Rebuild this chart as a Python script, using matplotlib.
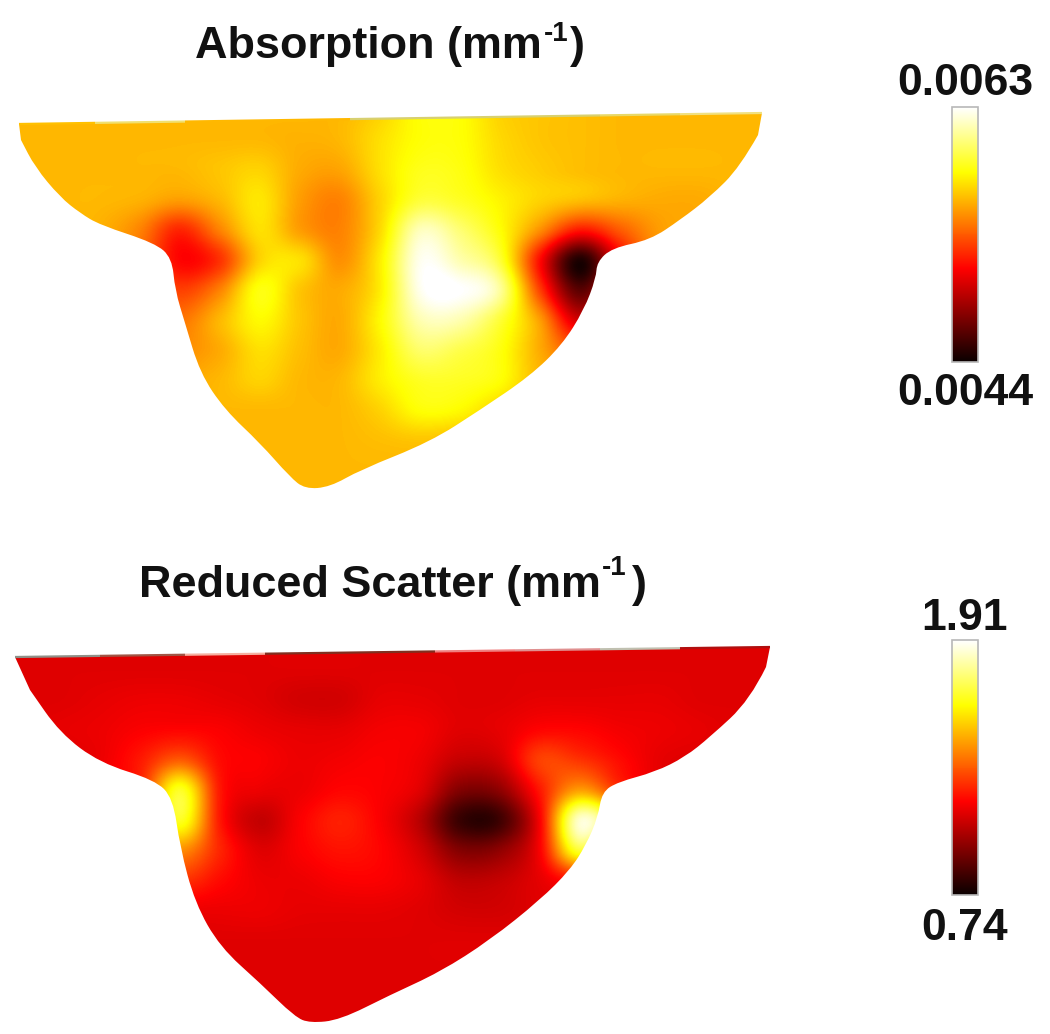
import matplotlib.pyplot as plt
import numpy as np
from matplotlib.path import Path
from matplotlib.patches import PathPatch

plt.rcParams['font.family'] = ['Liberation Sans', 'DejaVu Sans']

ABS_RANGE = (0.0044, 0.0063)
SCAT_RANGE = (0.74, 1.91)
ABS_LABELS = ('0.0063', '0.0044')
SCAT_LABELS = ('1.91', '0.74')

# map values, read as percent of the colour scale
# columns are x = 20, 60, ... 780 px, rows step 30 px
ABS_PCT = [
    [64, 64, 64, 64, 64, 64, 64, 64, 64, 68, 75, 75, 68, 66, 65, 64, 64, 64, 64, 64],
    [64, 64, 64, 64, 64, 64, 64, 63, 64, 70, 75, 75, 69, 66, 65, 64, 64, 64, 64, 64],
    [64, 64, 64, 64, 64, 66, 68, 62, 61, 70, 77, 76, 70, 67, 65, 64, 64, 64, 64, 64],
    [64, 64, 64, 63, 60, 64, 71, 60, 56, 68, 80, 78, 73, 68, 65, 63, 62, 62, 64, 64],
    [64, 64, 63, 56, 42, 56, 70, 60, 56, 69, 93, 86, 75, 58, 40, 50, 60, 62, 64, 64],
    [64, 64, 64, 54, 37, 44, 68, 70, 58, 72, 98, 92, 80, 38, 3, 36, 60, 62, 64, 64],
    [64, 64, 64, 58, 46, 56, 76, 66, 62, 72, 98, 100, 90, 46, 12, 40, 60, 64, 64, 64],
    [64, 64, 64, 60, 54, 64, 74, 66, 62, 74, 92, 92, 80, 60, 30, 50, 62, 64, 64, 64],
    [64, 64, 64, 62, 58, 62, 70, 65, 62, 72, 85, 82, 76, 62, 50, 60, 64, 64, 64, 64],
    [64, 64, 64, 64, 62, 64, 68, 64, 64, 72, 78, 78, 75, 64, 62, 64, 64, 64, 64, 64],
    [64, 64, 64, 64, 64, 64, 64, 64, 64, 68, 75, 74, 68, 64, 64, 64, 64, 64, 64, 64],
    [64, 64, 64, 64, 64, 64, 64, 64, 64, 65, 66, 65, 64, 64, 64, 64, 64, 64, 64, 64],
    [64, 64, 64, 64, 64, 64, 64, 64, 64, 64, 64, 64, 64, 64, 64, 64, 64, 64, 64, 64],
    [64, 64, 64, 64, 64, 64, 64, 64, 64, 64, 64, 64, 64, 64, 64, 64, 64, 64, 64, 64],
]
SCAT_PCT = [
    [32, 32, 32, 32, 32, 32, 32, 32, 32, 32, 32, 32, 32, 32, 32, 32, 32, 32, 32, 32],
    [32, 32, 32, 32, 32, 32, 32, 32, 32, 32, 32, 32, 32, 32, 32, 32, 32, 32, 32, 32],
    [32, 32, 33, 34, 34, 33, 32, 30, 30, 33, 33, 32, 32, 33, 33, 33, 33, 32, 32, 32],
    [32, 33, 34, 36, 37, 36, 34, 33, 33, 35, 35, 32, 33, 37, 37, 35, 34, 33, 32, 32],
    [32, 32, 34, 40, 50, 38, 36, 34, 35, 36, 34, 28, 30, 46, 44, 38, 33, 32, 32, 32],
    [32, 32, 36, 42, 78, 40, 34, 34, 37, 36, 32, 18, 20, 40, 60, 44, 33, 32, 32, 32],
    [32, 32, 36, 44, 78, 40, 28, 36, 41, 36, 26, 7, 8, 36, 95, 70, 33, 32, 32, 32],
    [32, 32, 36, 48, 58, 42, 32, 36, 39, 37, 30, 18, 20, 36, 80, 48, 33, 32, 32, 32],
    [32, 33, 36, 38, 44, 38, 34, 34, 36, 36, 33, 27, 28, 33, 40, 36, 32, 32, 32, 32],
    [32, 32, 32, 33, 34, 34, 34, 33, 33, 33, 32, 30, 30, 32, 33, 32, 32, 32, 32, 32],
    [32, 32, 32, 32, 32, 32, 32, 32, 32, 32, 32, 32, 32, 32, 32, 32, 32, 32, 32, 32],
    [32, 32, 32, 32, 32, 32, 32, 32, 32, 32, 32, 32, 32, 32, 32, 32, 32, 32, 32, 32],
    [32, 32, 32, 32, 32, 32, 32, 32, 32, 32, 32, 32, 32, 32, 32, 32, 32, 32, 32, 32],
    [32, 32, 32, 32, 32, 32, 32, 32, 32, 32, 32, 32, 32, 32, 32, 32, 32, 32, 32, 32],
]

# tissue outlines in picture pixels: top corners, then the curved edge
ABS_CORNERS = [(19, 124), (762, 113)]
ABS_EDGE = [
    (758, 135), (740, 167), (710, 197), (680, 220), (650, 240), (612, 248), (597, 262),
    (596, 278), (584, 310), (562, 345), (530, 376), (480, 410), (430, 442), (360, 470),
    (330, 487), (305, 489), (290, 477), (260, 443), (225, 410), (200, 373), (185, 323),
    (175, 290), (172, 258), (155, 243), (100, 225), (80, 213), (60, 197), (35, 167), (21, 140),
]
SCAT_CORNERS = [(15, 657), (770, 647)]
SCAT_EDGE = [
    (766, 667), (750, 700), (710, 737), (685, 757), (655, 772), (618, 782), (602, 792),
    (598, 817), (586, 845), (570, 870), (540, 900), (490, 940), (440, 972), (390, 995),
    (340, 1020), (310, 1023), (295, 1017), (260, 983), (220, 947), (195, 903), (180, 847),
    (173, 798), (155, 780), (100, 763), (60, 733), (30, 690),
]

# the thin off-colour strip along the top edge of each map
ABS_STRIP_X = [19, 95, 185, 350, 600, 680, 762]
ABS_STRIP_COLORS = ['#ffc000', '#f0e070', '#ffb800', '#d8d070', '#e8d868', '#f0e080']
SCAT_STRIP_X = [15, 100, 185, 265, 435, 515, 600, 680, 770]
SCAT_STRIP_COLORS = ['#8f9088', '#a05545', '#f5b0a0', '#803020', '#f08080', '#e09090',
                     '#c0c0b0', '#b01010']

W, H = 1050, 1034
fig = plt.figure(figsize=(W / 100, H / 100), dpi=100)
ax = fig.add_axes([0, 0, 1, 1])


def outline_path(corners, edge):
    verts = [corners[0], corners[1], edge[0]]
    codes = [Path.MOVETO, Path.LINETO, Path.LINETO]
    for a, b in zip(edge[1:-1], edge[2:]):
        verts += [a, ((a[0] + b[0]) / 2, (a[1] + b[1]) / 2)]
        codes += [Path.CURVE3, Path.CURVE3]
    verts += [edge[-1], corners[0]]
    codes += [Path.LINETO, Path.LINETO]
    return Path(verts, codes)


def draw_map(pct, corners, edge, value_range, top_y):
    vmin, vmax = value_range
    values = vmin + np.array(pct) / 100 * (vmax - vmin)
    extent = (0, 800, top_y + len(pct) * 30, top_y)
    im = ax.imshow(values, cmap='hot', vmin=vmin, vmax=vmax, extent=extent,
                   interpolation='catrom', aspect='auto')
    patch = PathPatch(outline_path(corners, edge), transform=ax.transData,
                      facecolor='none', edgecolor='none')
    ax.add_patch(patch)
    im.set_clip_path(patch)
    return im


def draw_strip(corners, xs, colors):
    (x0, y0), (x1, y1) = corners
    for a, b, c in zip(xs[:-1], xs[1:], colors):
        ya, yb = np.interp([a, b], [x0, x1], [y0, y1])
        ax.plot([a, b], [ya, yb], color=c, linewidth=1.6, solid_capstyle='butt')


def draw_bar(im, y0, y1, labels, base_hi, base_lo):
    cax = fig.add_axes([952 / W, 1 - y1 / H, 26 / W, (y1 - y0) / H])
    cb = fig.colorbar(im, cax=cax)
    cb.set_ticks([])
    cb.outline.set_edgecolor('#b8b8b8')
    cb.outline.set_linewidth(1.2)
    ax.text(965, base_hi, labels[0], fontsize=32, fontweight='bold', color='#111111',
            ha='center', va='baseline')
    ax.text(965, base_lo, labels[1], fontsize=32, fontweight='bold', color='#111111',
            ha='center', va='baseline')


def draw_title(text, x_left, x_sup, x_paren, base, base_sup):
    ax.text(x_left, base, text + ' (mm', fontsize=32.4, fontweight='bold', color='#111111',
            ha='left', va='baseline')
    ax.text(x_sup, base_sup, '-1', fontsize=20, fontweight='bold', color='#111111',
            ha='left', va='baseline')
    ax.text(x_paren, base, ')', fontsize=32.4, fontweight='bold', color='#111111',
            ha='left', va='baseline')


im_abs = draw_map(ABS_PCT, ABS_CORNERS, ABS_EDGE, ABS_RANGE, 95)
im_scat = draw_map(SCAT_PCT, SCAT_CORNERS, SCAT_EDGE, SCAT_RANGE, 625)
draw_strip(ABS_CORNERS, ABS_STRIP_X, ABS_STRIP_COLORS)
draw_strip(SCAT_CORNERS, SCAT_STRIP_X, SCAT_STRIP_COLORS)

ax.set_xlim(0, W)
ax.set_ylim(H, 0)
ax.axis('off')

draw_title('Absorption', 195, 544, 570, 58, 41)
draw_title('Reduced Scatter', 139, 602, 632, 597, 575)

draw_bar(im_abs, 107, 362, ABS_LABELS, 95, 405)
draw_bar(im_scat, 640, 895, SCAT_LABELS, 630, 940)

fig.savefig('out.png', dpi=100)
